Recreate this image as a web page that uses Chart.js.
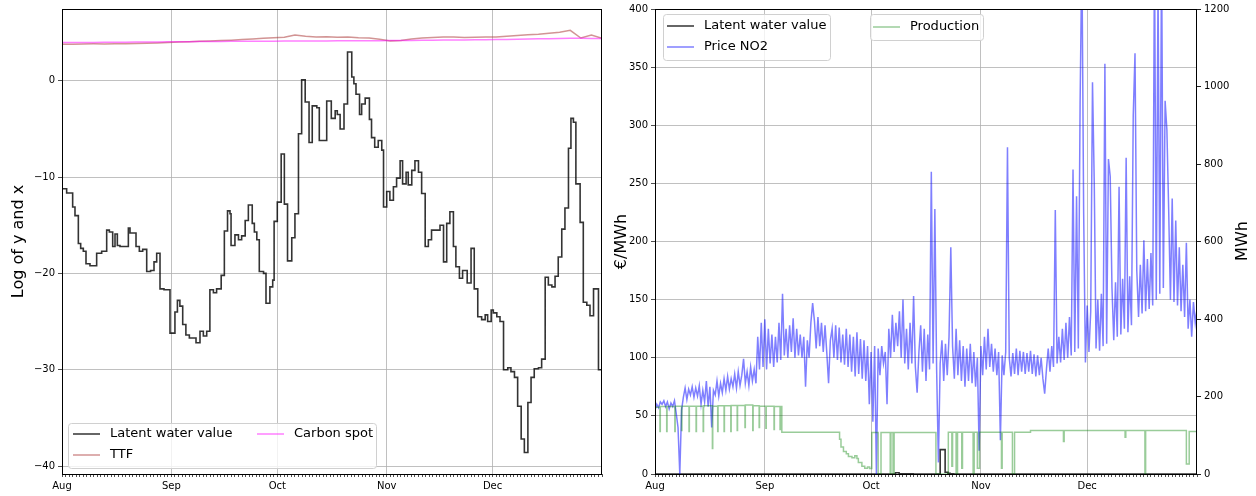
<!DOCTYPE html>
<html>
<head>
<meta charset="utf-8">
<script src="https://cdn.jsdelivr.net/npm/chart.js@4.4.0/dist/chart.umd.min.js"></script>
<style>
  body { margin: 0; background: #fff; }
  #wrap { position: relative; width: 1256px; height: 496px; }
  canvas { position: absolute; top: 0; }
</style>
</head>
<body>
<div id="wrap">
  <canvas id="leftChart" width="612" height="496" style="left:0"></canvas>
  <canvas id="rightChart" width="644" height="496" style="left:612px"></canvas>
</div>
<script>
// x axis = days since 1 Aug
const monthLabels = ['Aug', 'Sep', 'Oct', 'Nov', 'Dec'];
const monthStarts = [0, 31, 61, 92, 122];
const lastDay = 153;

// left chart: log values, step series (day where the step starts, value)
const latentDays = [0, 1.32, 3.02, 3.68, 4.63, 5.29, 6.04, 6.8, 7.93, 9.82,
  11.24, 12.66, 13.41, 14.36, 15.02, 15.68, 16.43, 18.8, 19.27, 20.97,
  21.91, 22.86, 24.0, 25.1, 26.07, 26.83, 27.77, 28.9, 30.6, 32.0,
  32.7, 33.4, 34.2, 35.1, 36.08, 37.97, 39.1, 40.05, 41.0, 41.9,
  42.9, 43.8, 45.1, 46.0, 46.9, 47.6, 47.9, 49.0, 50.0, 50.9,
  51.9, 52.8, 53.9, 54.5, 55.2, 55.9, 57.1, 57.8, 58.9, 59.7,
  60.1, 61.0, 62.1, 63.0, 63.9, 65.1, 66.0, 67.0, 67.9, 68.9,
  70.0, 70.9, 72.2, 72.9, 75.0, 76.3, 77.4, 78.0, 78.8, 79.9,
  80.9, 82.1, 82.7, 83.3, 84.3, 84.9, 85.9, 87.1, 87.7, 88.6,
  89.6, 90.6, 91.1, 92.0, 92.9, 93.9, 94.8, 95.8, 96.5, 97.5,
  98.1, 99.1, 100.0, 101.0, 101.9, 102.9, 103.8, 104.7, 107.1, 108.1,
  109.0, 109.9, 110.9, 111.6, 112.6, 113.5, 114.8, 115.9, 116.8, 117.8,
  118.9, 119.9, 120.6, 121.6, 122.2, 123.2, 124.1, 125.1, 126.3, 127.2,
  128.2, 129.1, 130.1, 131.0, 132.0, 132.9, 133.8, 135.0, 135.9, 136.9,
  137.8, 138.8, 139.7, 140.6, 141.6, 142.5, 143.5, 144.2, 144.9, 145.6,
  146.8, 147.7, 148.7, 149.6, 150.6, 152.0, 153];
const latentValues = [-11.2, -11.65, -13.1, -14.0, -16.9, -17.4, -17.7, -19.0, -19.2, -17.9,
  -17.7, -15.5, -15.7, -17.2, -15.9, -17.1, -17.2, -15.3, -15.8, -17.2,
  -17.7, -17.5, -19.8, -19.7, -18.8, -17.9, -21.6, -21.7, -26.2, -24.0,
  -22.8, -23.4, -25.3, -26.4, -26.7, -27.2, -26.0, -26.5, -26.0, -21.7,
  -22.0, -21.6, -20.2, -15.6, -13.5, -13.8, -17.1, -16.0, -16.5, -16.1,
  -14.5, -12.9, -14.8, -15.7, -16.5, -19.8, -20.0, -23.1, -21.4, -20.7,
  -14.6, -12.6, -7.6, -12.8, -18.7, -16.3, -13.8, -5.5, 0.1, -2.2,
  -6.4, -2.6, -2.8, -6.2, -2.1, -3.9, -3.1, -3.5, -5.0, -2.4,
  3.0, 0.4, -0.3, -1.4, -3.5, -2.4, -1.8, -4.0, -5.9, -6.9,
  -6.2, -7.2, -13.1, -11.5, -12.4, -11.0, -10.1, -8.3, -10.7, -9.5,
  -10.8, -9.3, -8.3, -9.5, -11.7, -17.2, -16.5, -15.5, -15.0, -18.8,
  -14.8, -13.6, -17.2, -19.3, -20.5, -19.7, -21.0, -17.4, -21.6, -24.5,
  -24.8, -24.3, -25.0, -23.8, -24.1, -24.5, -25.0, -30.0, -29.8, -30.2,
  -30.8, -33.8, -37.2, -38.6, -33.4, -30.8, -29.9, -29.8, -28.9, -20.4,
  -21.2, -21.4, -20.3, -18.3, -15.4, -13.2, -7.0, -3.9, -4.3, -10.7,
  -14.7, -23.0, -23.3, -24.4, -21.6, -30.0, -30.0];

// log TTF and log carbon, one value every 3 days
const ttfLog = [3.80, 3.81, 3.83, 3.84, 3.83, 3.86, 3.85, 3.88, 3.90, 3.93,
  3.98, 4.03, 4.06, 4.10, 4.14, 4.18, 4.22, 4.28, 4.35, 4.42,
  4.48, 4.52, 4.75, 4.62, 4.55, 4.58, 4.52, 4.55, 4.48, 4.45,
  4.32, 4.15, 4.20, 4.35, 4.45, 4.50, 4.56, 4.55, 4.50, 4.52,
  4.55, 4.55, 4.62, 4.70, 4.78, 4.85, 4.95, 5.05, 5.25, 4.45,
  4.75, 4.42];
const carbonLog = [3.97, 3.98, 3.98, 3.99, 4.00, 4.00, 4.01, 4.02, 4.03, 4.04,
  4.05, 4.06, 4.07, 4.08, 4.08, 4.09, 4.10, 4.10, 4.11, 4.12,
  4.12, 4.13, 4.13, 4.13, 4.14, 4.14, 4.15, 4.15, 4.16, 4.16,
  4.17, 4.18, 4.19, 4.20, 4.21, 4.22, 4.23, 4.24, 4.25, 4.26,
  4.27, 4.28, 4.30, 4.32, 4.34, 4.36, 4.38, 4.40, 4.42, 4.41,
  4.40, 4.40];

// right chart: price NO2 (EUR/MWh), two readings per day
const priceNO2 = [55, 60, 57, 62, 60, 63, 58, 62, 56, 61,
  58, 63, 52, 40, 0, 55, 66, 74, 64, 73,
  68, 75, 66, 74, 67, 76, 60, 72, 62, 80,
  58, 75, 40, 72, 68, 80, 67, 78, 70, 82,
  72, 84, 73, 82, 75, 86, 74, 88, 76, 85,
  99, 78, 88, 76, 92, 80, 90, 78, 118, 90,
  130, 92, 133, 90, 125, 95, 120, 92, 118, 96,
  130, 98, 155, 102, 125, 100, 128, 105, 134, 100,
  125, 102, 120, 100, 118, 75, 115, 100, 130, 147,
  132, 108, 135, 110, 130, 105, 128, 104, 78, 115,
  125, 100, 128, 98, 126, 96, 120, 94, 125, 92,
  120, 88, 118, 84, 122, 86, 116, 82, 115, 80,
  110, 60, 105, 45, 110, 0, 108, 85, 110, 95,
  105, 60, 125, 100, 137, 105, 130, 110, 140, 100,
  150, 95, 125, 90, 130, 95, 153, 92, 70, 105,
  128, 88, 125, 80, 120, 90, 260, 95, 228, 90,
  10, 95, 115, 80, 112, 85, 118, 195, 110, 82,
  125, 85, 115, 80, 110, 75, 108, 80, 112, 78,
  105, 75, 100, 20, 110, 85, 118, 90, 125, 92,
  112, 88, 108, 85, 105, 29, 102, 85, 105, 281,
  100, 84, 104, 86, 108, 85, 106, 88, 105, 86,
  104, 88, 106, 86, 103, 84, 102, 85, 100, 82,
  69, 90, 108, 88, 110, 92, 227, 95, 118, 96,
  125, 98, 130, 100, 135, 102, 262, 105, 239, 108,
  318, 450, 226, 96, 145, 105, 140, 337, 250, 108,
  150, 106, 155, 110, 353, 112, 271, 256, 160, 115,
  165, 118, 247, 120, 168, 125, 272, 122, 170, 128,
  308, 362, 175, 135, 180, 138, 201, 140, 185, 142,
  190, 145, 450, 150, 420, 155, 450, 160, 321, 296,
  228, 150, 237, 148, 218, 145, 195, 140, 180, 135,
  199, 125, 150, 118, 148, 130, 142];

// latent water value on the price axis (mostly ~0)
const latentNO2Days = [0, 67.9, 68.9, 70.9, 72.9, 80.5, 81.9, 82.7, 83.3, 84.3, 153];
const latentNO2Values = [0, 1.1, 0.1, 0.07, 0, 21, 1.5, 0.7, 0.2, 0, 0];

// production (MWh, right axis), step series
const prodDays = [0, 1.4, 1.5, 3.3, 3.4, 5.6, 5.7, 7.5, 7.6, 9.6,
  9.7, 11.6, 11.7, 13.6, 13.7, 16.2, 16.3, 17.7, 17.8, 19.5,
  19.6, 21.4, 21.5, 23.2, 23.3, 25.4, 25.5, 27.6, 27.7, 29.4,
  29.5, 31.3, 31.4, 33.6, 33.7, 35.3, 35.4, 35.8, 52.1, 52.5,
  53.2, 54.0, 54.6, 55.6, 56.4, 57.0, 57.4, 58.4, 59.2, 60.0,
  60.6, 61.2, 63.0, 63.8, 66.4, 66.6, 67.2, 67.5, 79.3, 82.8,
  83.8, 84.0, 85.0, 85.4, 86.6, 86.8, 89.8, 90.1, 91.0, 91.6,
  97.8, 98.0, 100.9, 101.5, 106.0, 115.3, 115.5, 132.7, 132.9, 138.3,
  138.5, 150.0, 150.8, 153];
const prodValues = [172, 110, 174, 110, 174, 110, 175, 112, 175, 110,
  175, 110, 175, 110, 176, 66, 175, 110, 176, 110,
  176, 110, 177, 112, 177, 120, 178, 112, 176, 120,
  175, 118, 175, 115, 174, 115, 174, 108, 90, 70,
  58, 52, 45, 42, 47, 40, 30, 20, 15, 18,
  14, 107, 0, 107, 0, 107, 0, 107, 0, 108,
  20, 108, 0, 108, 15, 108, 0, 108, 15, 108,
  15, 108, 0, 108, 112, 84, 112, 95, 112, 0,
  112, 26, 110, 110];

Chart.defaults.font.family = 'DejaVu Sans';
Chart.defaults.color = '#000';

const gridGrey = '#b0b0b0';
const tickFont = { size: 10 };

function toPoints(xs, ys) {
  return ys.map((y, i) => ({ x: xs[i], y: y }));
}

function dayAxis() {
  return {
    type: 'linear',
    min: 0,
    max: lastDay,
    afterBuildTicks: axis => {
      const t = [];
      for (let d = 0; d <= lastDay; d++) t.push({ value: d });
      axis.ticks = t;
    },
    ticks: {
      autoSkip: false, maxRotation: 0, font: tickFont, padding: 3,
      callback: v => { const i = monthStarts.indexOf(v); return i < 0 ? '' : monthLabels[i]; }
    },
    grid: {
      color: c => (c.tick && monthStarts.includes(c.tick.value)) ? gridGrey : 'rgba(0,0,0,0)',
      tickColor: '#222', tickLength: 3, lineWidth: 0.8
    },
    border: { display: false },
    afterFit: s => { s.height = 22; }
  };
}

// frame around the plot, matplotlib-like legends, rotated right title
const extras = {
  id: 'extras',
  afterDraw(chart, args, opts) {
    const ctx = chart.ctx;
    const a = chart.chartArea;
    ctx.save();
    ctx.strokeStyle = '#000';
    ctx.lineWidth = 1;
    ctx.strokeRect(a.left + 0.5, a.top + 0.5, a.right - a.left - 1, a.bottom - a.top);

    (opts.boxes || []).forEach(b => {
      ctx.beginPath();
      ctx.roundRect(b.x + 0.5, b.y + 0.5, b.w, b.h, 3);
      ctx.fillStyle = 'rgba(255,255,255,0.8)';
      ctx.fill();
      ctx.strokeStyle = '#d0d0d0';
      ctx.stroke();
      b.items.forEach(it => {
        ctx.beginPath();
        ctx.strokeStyle = it.color;
        ctx.lineWidth = 1.5;
        ctx.moveTo(it.x, it.y);
        ctx.lineTo(it.x + 27, it.y);
        ctx.stroke();
        ctx.lineWidth = 1;
        ctx.fillStyle = '#000';
        ctx.font = '13px "DejaVu Sans"';
        ctx.textBaseline = 'middle';
        ctx.textAlign = 'left';
        ctx.fillText(it.label, it.x + 37, it.y);
      });
    });

    if (opts.rightTitle) {
      ctx.translate(opts.rightTitle.x, opts.rightTitle.y);
      ctx.rotate(-Math.PI / 2);
      ctx.font = '16px "DejaVu Sans"';
      ctx.fillStyle = '#000';
      ctx.textAlign = 'center';
      ctx.textBaseline = 'middle';
      ctx.fillText(opts.rightTitle.text, 0, 0);
    }
    ctx.restore();
  }
};

const blackLine = 'rgba(0,0,0,0.8)';
const ttfColour = 'rgba(165,42,42,0.5)';
const carbonColour = 'rgba(255,0,255,0.5)';
const priceColour = 'rgba(0,0,255,0.5)';
const prodColour = 'rgba(0,128,0,0.4)';

// stepped: true keeps each value until the next point (steps-post)
new Chart(document.getElementById('leftChart'), {
  type: 'line',
  data: {
    datasets: [
      { label: 'Latent water value', data: toPoints(latentDays, latentValues), stepped: true,
        borderColor: blackLine, borderWidth: 1.6, pointRadius: 0, order: 3 },
      { label: 'TTF', data: ttfLog.map((v, i) => ({ x: i * 3, y: v })),
        borderColor: ttfColour, borderWidth: 1.5, pointRadius: 0, order: 2 },
      { label: 'Carbon spot', data: carbonLog.map((v, i) => ({ x: i * 3, y: v })),
        borderColor: carbonColour, borderWidth: 1.5, pointRadius: 0, order: 1 }
    ]
  },
  options: {
    responsive: false,
    animation: false,
    devicePixelRatio: 1,
    layout: { padding: { top: 8, right: 10, left: 0, bottom: 0 } },
    plugins: {
      legend: { display: false },
      tooltip: { enabled: false },
      extras: {
        boxes: [{
          x: 68, y: 423, w: 308, h: 45,
          items: [
            { label: 'Latent water value', color: blackLine, x: 73, y: 434 },
            { label: 'TTF', color: ttfColour, x: 73, y: 455 },
            { label: 'Carbon spot', color: carbonColour, x: 257, y: 434 }
          ]
        }]
      }
    },
    scales: {
      x: dayAxis(),
      y: {
        min: -40.83, max: 7.46,
        ticks: { stepSize: 10, includeBounds: false, font: tickFont, padding: 3,
          callback: v => String(v).replace('-', '\u2212') },
        grid: { color: gridGrey, tickColor: '#222', tickLength: 4, lineWidth: 0.8 },
        border: { display: false },
        title: { display: true, text: 'Log of y and x', font: { size: 16 }, padding: { top: 9, bottom: 0 } },
        afterFit: s => { s.width = 62; }
      }
    }
  },
  plugins: [extras]
});

new Chart(document.getElementById('rightChart'), {
  type: 'line',
  data: {
    datasets: [
      { label: 'Latent water value', data: toPoints(latentNO2Days, latentNO2Values), stepped: true,
        borderColor: blackLine, borderWidth: 1.6, pointRadius: 0, yAxisID: 'y', order: 3 },
      { label: 'Price NO2', data: priceNO2.map((v, i) => ({ x: i / 2, y: v })),
        borderColor: priceColour, borderWidth: 1.5, pointRadius: 0, yAxisID: 'y', order: 2 },
      { label: 'Production', data: toPoints(prodDays, prodValues), stepped: true,
        borderColor: prodColour, borderWidth: 1.5, pointRadius: 0, yAxisID: 'y1', order: 1 }
    ]
  },
  options: {
    responsive: false,
    animation: false,
    devicePixelRatio: 1,
    layout: { padding: { top: 8, right: 0, left: 0, bottom: 0 } },
    plugins: {
      legend: { display: false },
      tooltip: { enabled: false },
      extras: {
        boxes: [
          { x: 51, y: 14, w: 167, h: 46,
            items: [
              { label: 'Latent water value', color: blackLine, x: 55, y: 26 },
              { label: 'Price NO2', color: priceColour, x: 55, y: 47 }
            ] },
          { x: 258, y: 14, w: 113, h: 26,
            items: [{ label: 'Production', color: prodColour, x: 261, y: 27 }] }
        ],
        rightTitle: { text: 'MWh', x: 631, y: 241 }
      }
    },
    scales: {
      x: dayAxis(),
      y: {
        position: 'left',
        min: 0, max: 400,
        ticks: { stepSize: 50, font: tickFont, padding: 3 },
        grid: { color: gridGrey, tickColor: '#222', tickLength: 4, lineWidth: 0.8 },
        border: { display: false },
        title: { display: true, text: '€/MWh', font: { size: 16 }, padding: { top: 0, bottom: 0 } },
        afterFit: s => { s.width = 43; }
      },
      y1: {
        position: 'right',
        min: 0, max: 1200,
        ticks: { stepSize: 200, font: tickFont, padding: 3, callback: v => String(v) },
        grid: { drawOnChartArea: false, tickColor: '#222', tickLength: 4 },
        border: { display: false },
        afterFit: s => { s.width = 59; }
      }
    }
  },
  plugins: [extras]
});
</script>
</body>
</html>
